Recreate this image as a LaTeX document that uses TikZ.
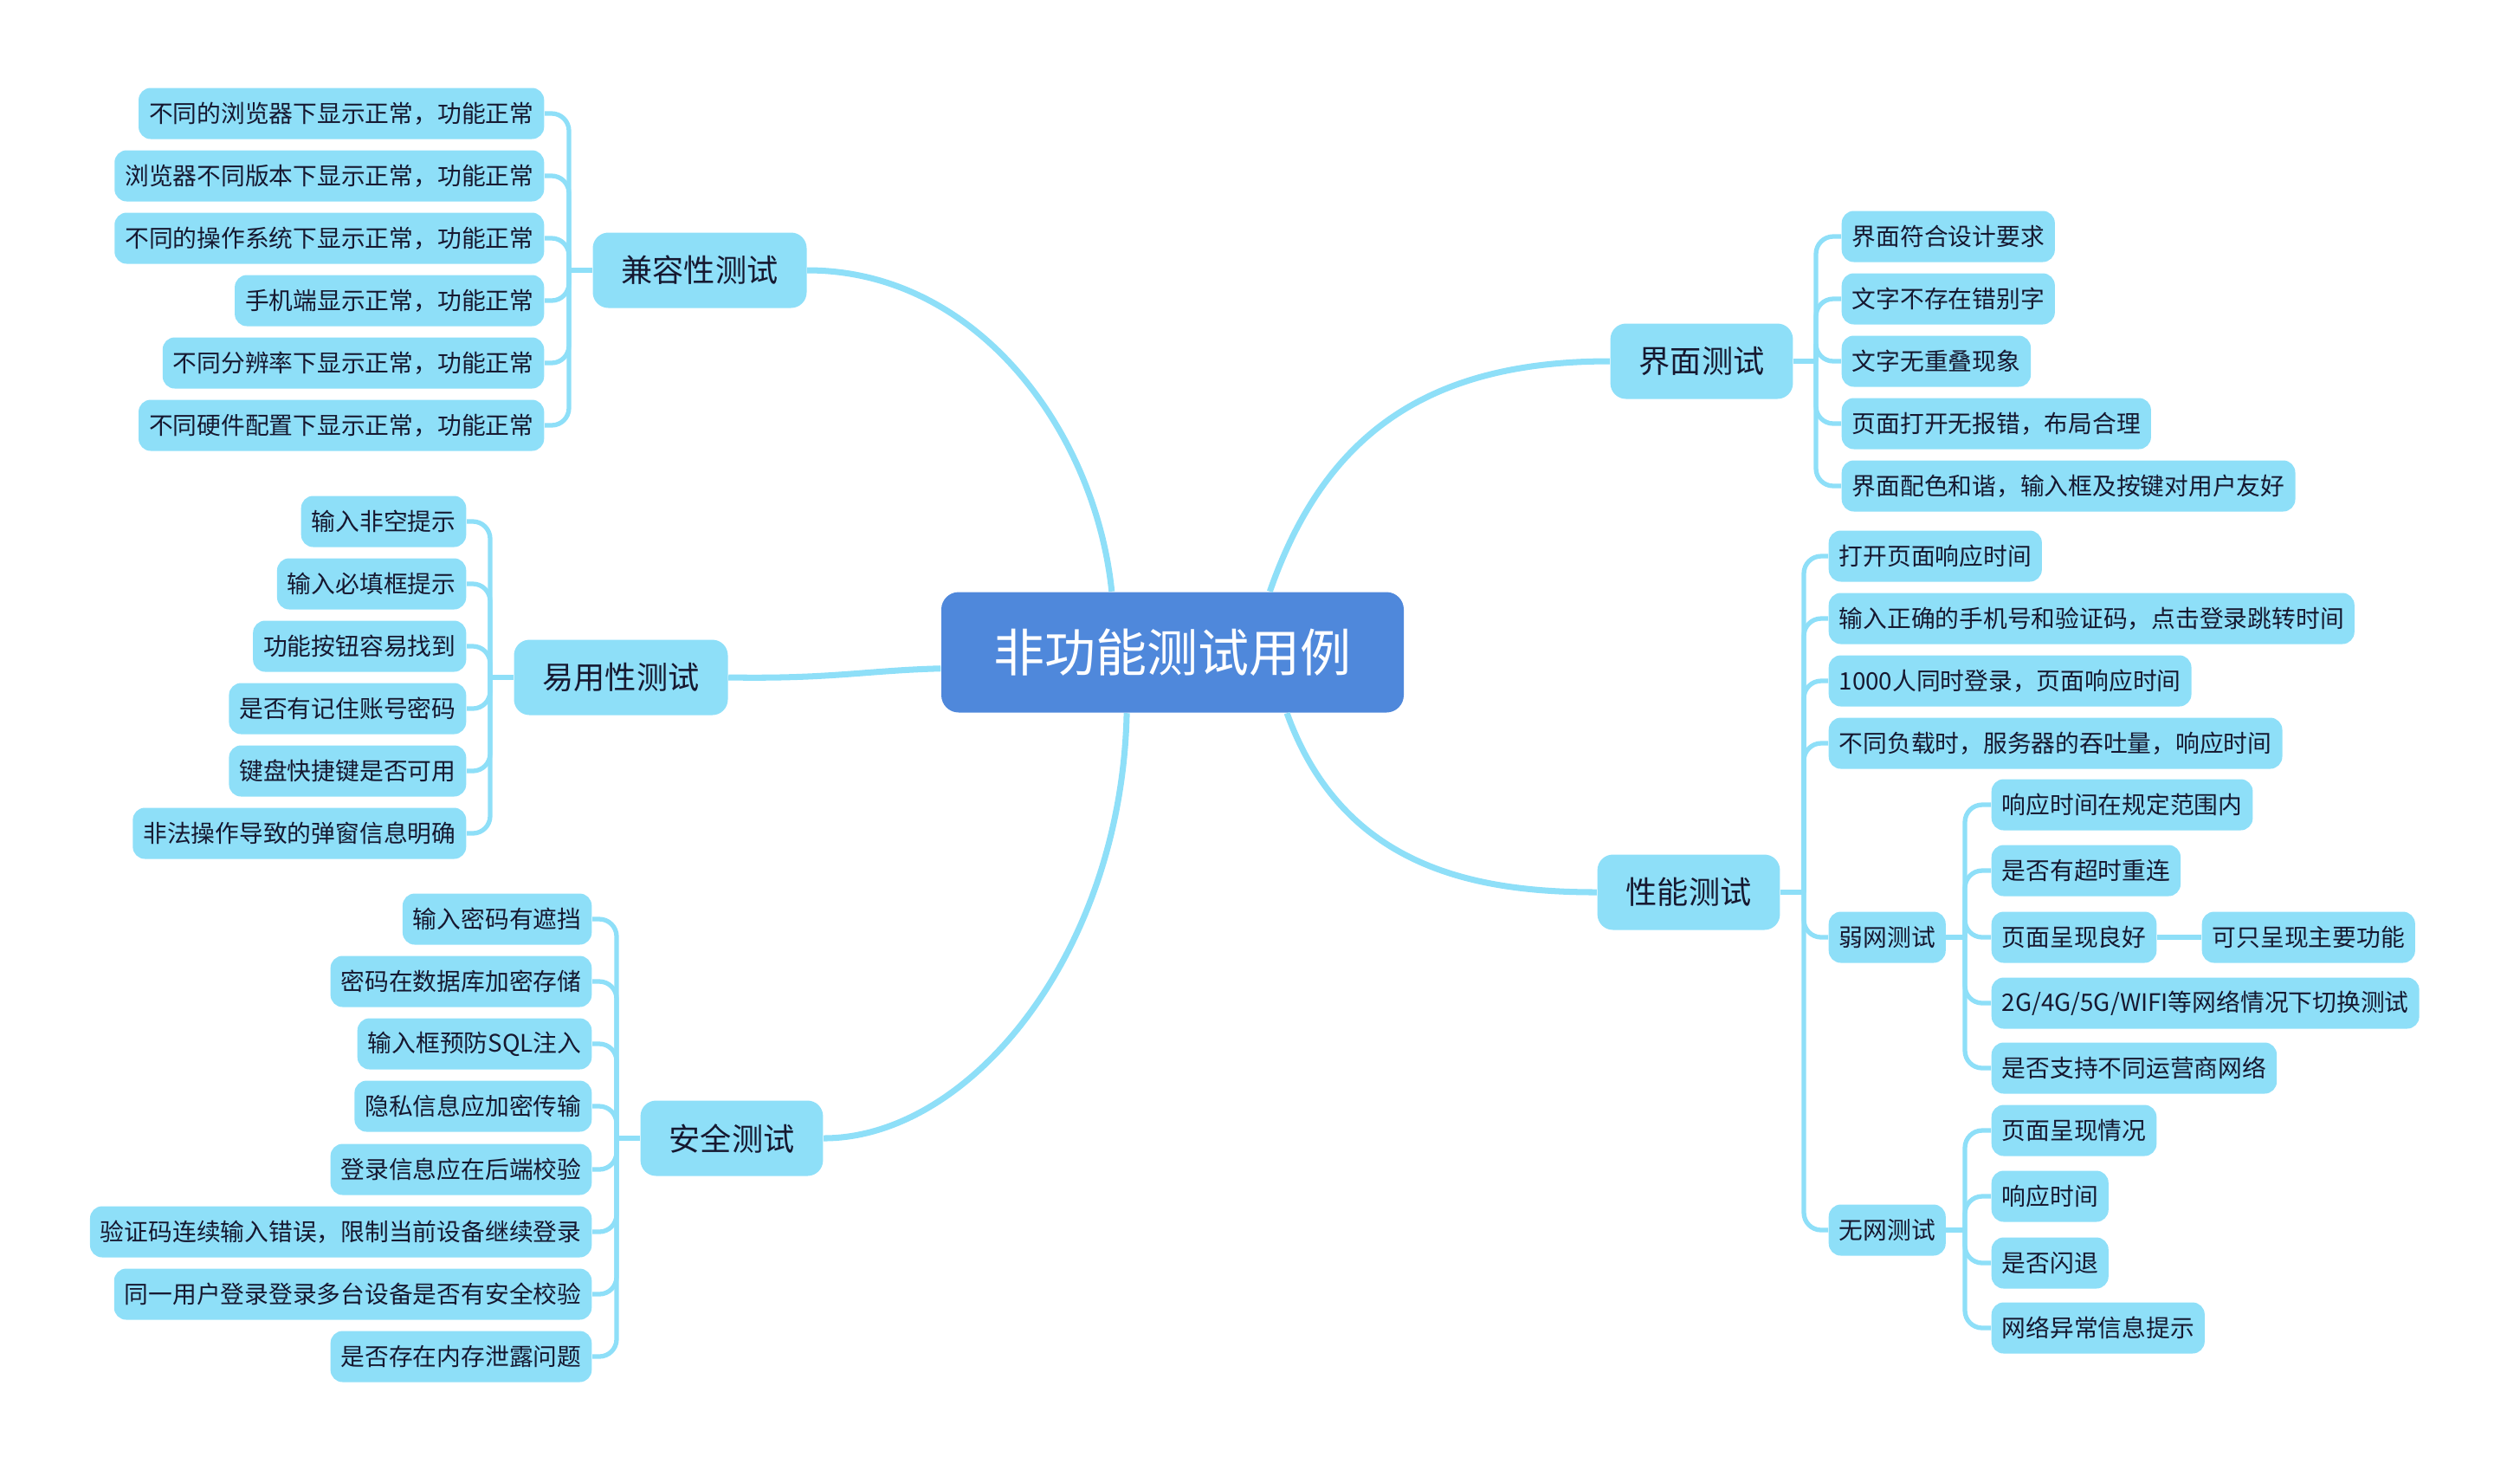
\documentclass[tikz,border=0pt]{standalone}
\usepackage{fontspec}
\setmainfont{Noto Sans CJK SC}
\usepackage{tikz}
\usetikzlibrary{positioning, calc}
\definecolor{bleu}{RGB}{79,136,219}
\definecolor{ciel}{RGB}{142,223,248}
\definecolor{encre}{RGB}{22,24,48}

\tikzset{
  racine/.style={fill=bleu, text=white, rounded corners=0.2cm, minimum width=5.34cm, minimum height=1.39cm, font=\fontsize{16.8pt}{18pt}\selectfont},
  branche/.style={fill=ciel, text=encre, rounded corners=0.18cm, minimum height=0.87cm, inner xsep=0.33cm, font=\fontsize{10.3pt}{12pt}\selectfont},
  feuille/.style={fill=ciel, text=encre, rounded corners=0.14cm, minimum height=0.59cm, inner xsep=0.12cm, font=\fontsize{7.9pt}{9pt}\selectfont},
  lien/.style={draw=ciel, line width=2pt},
  fil/.style={draw=ciel, line width=1.5pt, rounded corners=0.2cm},
}

\begin{document}
\begin{tikzpicture}[x=1cm, y=-1cm]
\useasboundingbox (0,0) rectangle (29.10,16.96);

% centre et branches principales
\node[racine] (racine) at (13.54,7.53) {非功能测试用例};
\node[branche] (compat) at (8.08,3.12) {兼容性测试};
\node[branche] (usage) at (7.17,7.82) {易用性测试};
\node[branche] (secu) at (8.45,13.14) {安全测试};
\node[branche] (ui) at (19.65,4.17) {界面测试};
\node[branche] (perf) at (19.50,10.30) {性能测试};

\draw[lien] (compat.east) .. controls (11.30,3.12) and (12.65,5.00) .. (racine.135);
\draw[lien] (usage.east) .. controls (9.60,7.84) and (10.00,7.74) .. (racine.184);
\draw[lien] (racine.233) .. controls (12.95,11.00) and (11.20,13.14) .. (secu.east);
\draw[lien] (racine.32) .. controls (15.30,5.00) and (16.50,4.17) .. (ui.west);
\draw[lien] (racine.332) .. controls (15.50,10.00) and (17.00,10.30) .. (perf.west);

% 兼容性测试
\node[feuille, anchor=east] (compat1) at (6.29,1.31) {不同的浏览器下显示正常，功能正常};
\node[feuille, anchor=east] (compat2) at (6.29,2.03) {浏览器不同版本下显示正常，功能正常};
\node[feuille, anchor=east] (compat3) at (6.29,2.75) {不同的操作系统下显示正常，功能正常};
\node[feuille, anchor=east] (compat4) at (6.29,3.47) {手机端显示正常，功能正常};
\node[feuille, anchor=east] (compat5) at (6.29,4.19) {不同分辨率下显示正常，功能正常};
\node[feuille, anchor=east] (compat6) at (6.29,4.91) {不同硬件配置下显示正常，功能正常};
\coordinate (jcompat) at (6.57,3.12);
\draw[fil] (compat.west) -- (jcompat);
\draw[fil] (jcompat) |- (compat1.east);
\draw[fil] (jcompat) |- (compat2.east);
\draw[fil] (jcompat) |- (compat3.east);
\draw[fil] (jcompat) |- (compat4.east);
\draw[fil] (jcompat) |- (compat5.east);
\draw[fil] (jcompat) |- (compat6.east);

% 易用性测试
\node[feuille, anchor=east] (usage1) at (5.39,6.02) {输入非空提示};
\node[feuille, anchor=east] (usage2) at (5.39,6.74) {输入必填框提示};
\node[feuille, anchor=east] (usage3) at (5.39,7.46) {功能按钮容易找到};
\node[feuille, anchor=east] (usage4) at (5.39,8.18) {是否有记住账号密码};
\node[feuille, anchor=east] (usage5) at (5.39,8.90) {键盘快捷键是否可用};
\node[feuille, anchor=east] (usage6) at (5.39,9.62) {非法操作导致的弹窗信息明确};
\coordinate (jusage) at (5.66,7.82);
\draw[fil] (usage.west) -- (jusage);
\draw[fil] (jusage) |- (usage1.east);
\draw[fil] (jusage) |- (usage2.east);
\draw[fil] (jusage) |- (usage3.east);
\draw[fil] (jusage) |- (usage4.east);
\draw[fil] (jusage) |- (usage5.east);
\draw[fil] (jusage) |- (usage6.east);

% 安全测试
\node[feuille, anchor=east] (secu1) at (6.84,10.61) {输入密码有遮挡};
\node[feuille, anchor=east] (secu2) at (6.84,11.33) {密码在数据库加密存储};
\node[feuille, anchor=east] (secu3) at (6.84,12.05) {输入框预防SQL注入};
\node[feuille, anchor=east] (secu4) at (6.84,12.77) {隐私信息应加密传输};
\node[feuille, anchor=east] (secu5) at (6.84,13.50) {登录信息应在后端校验};
\node[feuille, anchor=east] (secu6) at (6.84,14.22) {验证码连续输入错误，限制当前设备继续登录};
\node[feuille, anchor=east] (secu7) at (6.84,14.94) {同一用户登录登录多台设备是否有安全校验};
\node[feuille, anchor=east] (secu8) at (6.84,15.66) {是否存在内存泄露问题};
\coordinate (jsecu) at (7.12,13.14);
\draw[fil] (secu.west) -- (jsecu);
\draw[fil] (jsecu) |- (secu1.east);
\draw[fil] (jsecu) |- (secu2.east);
\draw[fil] (jsecu) |- (secu3.east);
\draw[fil] (jsecu) |- (secu4.east);
\draw[fil] (jsecu) |- (secu5.east);
\draw[fil] (jsecu) |- (secu6.east);
\draw[fil] (jsecu) |- (secu7.east);
\draw[fil] (jsecu) |- (secu8.east);

% 界面测试
\node[feuille, anchor=west] (ui1) at (21.26,2.73) {界面符合设计要求};
\node[feuille, anchor=west] (ui2) at (21.26,3.45) {文字不存在错别字};
\node[feuille, anchor=west] (ui3) at (21.26,4.17) {文字无重叠现象};
\node[feuille, anchor=west] (ui4) at (21.26,4.89) {页面打开无报错，布局合理};
\node[feuille, anchor=west] (ui5) at (21.26,5.61) {界面配色和谐，输入框及按键对用户友好};
\coordinate (jui) at (20.97,4.17);
\draw[fil] (ui.east) -- (jui);
\draw[fil] (jui) |- (ui1.west);
\draw[fil] (jui) |- (ui2.west);
\draw[fil] (jui) |- (ui3.west);
\draw[fil] (jui) |- (ui4.west);
\draw[fil] (jui) |- (ui5.west);

% 性能测试
\node[feuille, anchor=west] (perf1) at (21.11,6.42) {打开页面响应时间};
\node[feuille, anchor=west] (perf2) at (21.11,7.14) {输入正确的手机号和验证码，点击登录跳转时间};
\node[feuille, anchor=west] (perf3) at (21.11,7.86) {1000人同时登录，页面响应时间};
\node[feuille, anchor=west] (perf4) at (21.11,8.58) {不同负载时，服务器的吞吐量，响应时间};
\node[feuille, anchor=west] (faible) at (21.11,10.82) {弱网测试};
\node[feuille, anchor=west] (horsnet) at (21.11,14.20) {无网测试};
\coordinate (jperf) at (20.83,10.30);
\draw[fil] (perf.east) -- (jperf);
\draw[fil] (jperf) |- (perf1.west);
\draw[fil] (jperf) |- (perf2.west);
\draw[fil] (jperf) |- (perf3.west);
\draw[fil] (jperf) |- (perf4.west);
\draw[fil] (jperf) |- (faible.west);
\draw[fil] (jperf) |- (horsnet.west);

% 弱网测试
\node[feuille, anchor=west] (faible1) at (22.99,9.29) {响应时间在规定范围内};
\node[feuille, anchor=west] (faible2) at (22.99,10.05) {是否有超时重连};
\node[feuille, anchor=west] (faible3) at (22.99,10.82) {页面呈现良好};
\node[feuille, anchor=west] (faible4) at (22.99,11.58) {2G/4G/5G/WIFI等网络情况下切换测试};
\node[feuille, anchor=west] (faible5) at (22.99,12.33) {是否支持不同运营商网络};
\node[feuille, anchor=west] (faible3a) at (25.42,10.82) {可只呈现主要功能};
\coordinate (jfaible) at (22.69,10.82);
\draw[fil] (faible.east) -- (jfaible);
\draw[fil] (jfaible) |- (faible1.west);
\draw[fil] (jfaible) |- (faible2.west);
\draw[fil] (jfaible) |- (faible3.west);
\draw[fil] (jfaible) |- (faible4.west);
\draw[fil] (jfaible) |- (faible5.west);
\draw[fil] (faible3.east) -- (faible3a.west);

% 无网测试
\node[feuille, anchor=west] (horsnet1) at (22.99,13.05) {页面呈现情况};
\node[feuille, anchor=west] (horsnet2) at (22.99,13.81) {响应时间};
\node[feuille, anchor=west] (horsnet3) at (22.99,14.58) {是否闪退};
\node[feuille, anchor=west] (horsnet4) at (22.99,15.33) {网络异常信息提示};
\coordinate (jhorsnet) at (22.69,14.20);
\draw[fil] (horsnet.east) -- (jhorsnet);
\draw[fil] (jhorsnet) |- (horsnet1.west);
\draw[fil] (jhorsnet) |- (horsnet2.west);
\draw[fil] (jhorsnet) |- (horsnet3.west);
\draw[fil] (jhorsnet) |- (horsnet4.west);
\end{tikzpicture}
\end{document}
